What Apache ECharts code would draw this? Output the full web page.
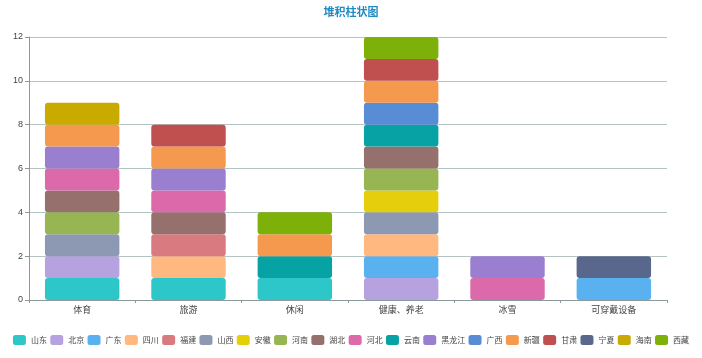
<!DOCTYPE html>
<html><head><meta charset="utf-8">
<script src="https://cdn.jsdelivr.net/npm/echarts@6/dist/echarts.min.js"></script>
<style>html,body{margin:0;padding:0;background:#fff}#c{width:702px;height:358px}</style>
</head><body><div id="c"></div>
<script>
const categories = ['体育','旅游','休闲','健康、养老','冰雪','可穿戴设备'];
const provinces = ['山东','北京','广东','四川','福建','山西','安徽','河南','湖北','河北','云南','黑龙江','广西','新疆','甘肃','宁夏','海南','西藏'];
const colors = ['#2ec7c9','#b6a2de','#5ab1ef','#ffb980','#d87a80','#8d98b3','#e5cf0d','#97b552','#95706d','#dc69aa','#07a2a4','#9a7fd1','#588dd5','#f5994e','#c05050','#59678c','#c9ab00','#7eb00a'];
// values per province across categories
const v山东 = [1,1,1,0,0,0];
const v北京 = [1,0,0,1,0,0];
const v广东 = [0,0,0,1,0,1];
const v四川 = [0,1,0,1,0,0];
const v福建 = [0,1,0,0,0,0];
const v山西 = [1,0,0,1,0,0];
const v安徽 = [0,0,0,1,0,0];
const v河南 = [1,0,0,1,0,0];
const v湖北 = [1,1,0,1,0,0];
const v河北 = [1,1,0,0,1,0];
const v云南 = [0,0,1,1,0,0];
const v黑龙江 = [1,1,0,0,1,0];
const v广西 = [0,0,0,1,0,0];
const v新疆 = [1,1,1,1,0,0];
const v甘肃 = [0,1,0,1,0,0];
const v宁夏 = [0,0,0,0,0,1];
const v海南 = [1,0,0,0,0,0];
const v西藏 = [0,0,1,1,0,0];
const values = [v山东,v北京,v广东,v四川,v福建,v山西,v安徽,v河南,v湖北,v河北,v云南,v黑龙江,v广西,v新疆,v甘肃,v宁夏,v海南,v西藏];
const yTicks = [0,2,4,6,8,10,12];

const chart = echarts.init(document.getElementById('c'));
chart.setOption({
  color: colors,
  animation: false,
  title: {text:'堆积柱状图', left:'center', top:1, textStyle:{color:'#1e8bc3', fontSize:11, fontWeight:'bold', fontFamily:'Noto Sans CJK SC'}},
  legend: {data: provinces, bottom: 13, left: 'center', itemWidth: 13, itemHeight: 10, itemGap: 3.3, padding: 0,
    textStyle:{fontSize:8, color:'#444', fontFamily:'Noto Sans CJK SC'}, icon:'roundRect'},
  grid: {left:29, right:35, top:37, bottom:58, containLabel:false},
  xAxis: {type:'category', data: categories, boundaryGap:true,
    axisLine:{lineStyle:{color:'#8a9a9a', width:1}},
    axisTick:{show:true, length:3, lineStyle:{color:'#8a9a9a'}},
    axisLabel:{fontSize:9, color:'#444', margin:5, fontFamily:'Noto Sans CJK SC'}},
  yAxis: {type:'value', min: yTicks[0], max: yTicks[yTicks.length-1], interval: 2,
    axisLine:{show:true, lineStyle:{color:'#8a9a9a'}},
    axisTick:{show:true, length:4, lineStyle:{color:'#8a9a9a'}},
    axisLabel:{fontSize:9, color:'#444', margin:6},
    splitLine:{lineStyle:{color:'#b5c3c3'}}},
  series: provinces.map((p,i)=>({
    name:p, type:'bar', stack:'total', barWidth:'70%',
    data: values[i].map(v=> v===0 ? '-' : v),
    itemStyle:{borderRadius:3}
  }))
});
</script></body></html>
